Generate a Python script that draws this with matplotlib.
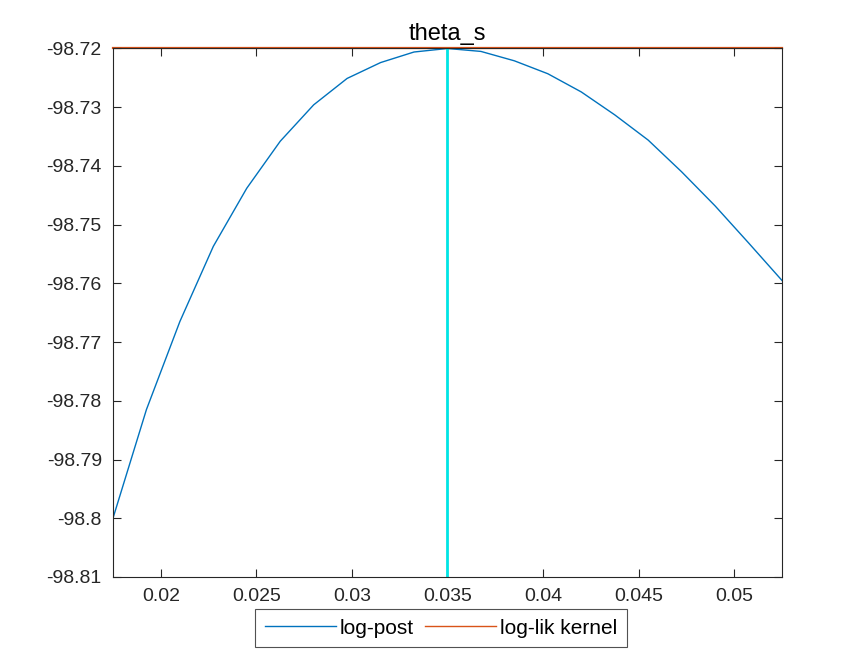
import matplotlib
matplotlib.use('Agg')
import matplotlib.pyplot as plt
from matplotlib.ticker import FuncFormatter

plt.rcParams['font.family'] = ['Liberation Sans', 'DejaVu Sans']

# theta_s grid and curves
theta = [0.0175, 0.01925, 0.021, 0.02275, 0.0245, 0.02625, 0.028, 0.02975,
         0.0315, 0.03325, 0.035, 0.03675, 0.0385, 0.04025, 0.042, 0.04375,
         0.0455, 0.04725, 0.049, 0.05075, 0.0525]
log_post = [-98.8000, -98.7815, -98.7665, -98.7537, -98.7438, -98.7358,
            -98.7296, -98.7251, -98.7224, -98.7206, -98.7200, -98.7205,
            -98.7221, -98.7243, -98.7274, -98.7313, -98.7356, -98.7410,
            -98.7468, -98.7531, -98.7595]
log_lik = [-98.72, -98.72, -98.72, -98.72, -98.72, -98.72, -98.72, -98.72,
           -98.72, -98.72, -98.72, -98.72, -98.72, -98.72, -98.72, -98.72,
           -98.72, -98.72, -98.72, -98.72, -98.72]
theta_mode = 0.035
xticks = [0.02, 0.025, 0.03, 0.035, 0.04, 0.045, 0.05]
yticks = [-98.81, -98.80, -98.79, -98.78, -98.77, -98.76, -98.75, -98.74, -98.73, -98.72]

fig = plt.figure(figsize=(8.65, 6.49), dpi=100)
ax = fig.add_axes([0.1306, 0.111, 0.7734, 0.8143])

ax.plot(theta, log_post, color='#0072BD', lw=1.0, label='log-post')
ax.plot(theta, log_lik, color='#D95319', lw=1.6, label='log-lik kernel',
        clip_on=False, zorder=1)
ax.axvline(theta_mode, color='#00E5E5', lw=2.0)

ax.set_xlim(theta[0], theta[-1])
ax.set_ylim(yticks[0], yticks[-1])
ax.set_xticks(xticks)
ax.set_yticks(yticks)
fmt = FuncFormatter(lambda v, p: '%g' % round(v, 4))
ax.xaxis.set_major_formatter(fmt)
ax.yaxis.set_major_formatter(fmt)
ax.tick_params(direction='in', length=6, width=0.8, colors='#262626',
               labelsize=14, top=True, right=True, pad=8)
for s in ax.spines.values():
    s.set_color('#262626')
    s.set_linewidth(0.8)
    s.set_zorder(3)

ax.set_title('theta_s', fontsize=17, color='black', pad=6)

leg = fig.legend(loc='upper center', bbox_to_anchor=(0.51, 0.061), ncol=2,
                 fontsize=15, frameon=True, fancybox=False, handlelength=3.4,
                 handletextpad=0.2, columnspacing=0.55, borderpad=0.45,
                 borderaxespad=0)
for h in leg.get_lines():
    h.set_linewidth(1.0)
leg.get_frame().set_edgecolor('#262626')
leg.get_frame().set_linewidth(0.8)

fig.savefig('out.png', dpi=100)
